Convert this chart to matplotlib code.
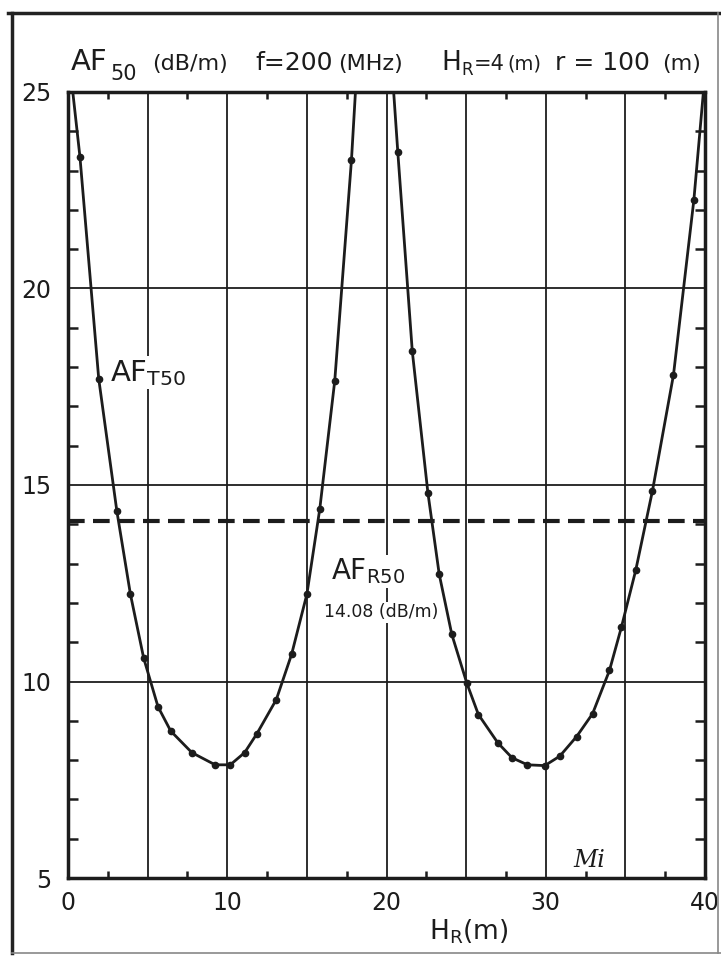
import matplotlib
matplotlib.use("Agg")
import matplotlib.pyplot as plt
from matplotlib.lines import Line2D

# ---- data ----
# AF_T50 curve, first lobe (markers)
lobe1_x = [0.75, 1.93, 3.07, 3.92, 4.75, 5.65, 6.45, 7.78, 9.24, 10.19, 11.09, 11.86,
           13.08, 14.04, 15.0, 15.81, 16.75, 17.8]
lobe1_y = [23.35, 17.7, 14.33, 12.22, 10.6, 9.36, 8.74, 8.19, 7.88, 7.88, 8.19, 8.67,
           9.54, 10.69, 12.22, 14.39, 17.65, 23.27]
# curve ends where it leaves the top of the frame
lobe1_ends_x = [0.3, 18.05]
lobe1_ends_y = [25.0, 25.0]

# second lobe (markers)
lobe2_x = [20.71, 21.62, 22.6, 23.31, 24.1, 25.05, 25.77, 26.99, 27.88, 28.85, 29.94,
           30.88, 31.94, 32.94, 34.0, 34.75, 35.65, 36.7, 38.02, 39.3]
lobe2_y = [23.47, 18.4, 14.8, 12.73, 11.2, 9.95, 9.16, 8.44, 8.06, 7.88, 7.86,
           8.1, 8.6, 9.18, 10.28, 11.38, 12.83, 14.85, 17.8, 22.25]
lobe2_ends_x = [20.45, 39.9]
lobe2_ends_y = [25.0, 25.0]

af_r50 = 14.08  # dB/m

x_ticks = [0, 5, 10, 15, 20, 25, 30, 35, 40]
x_tick_labels = ["0", "", "10", "", "20", "", "30", "", "40"]
y_ticks = [5, 10, 15, 20, 25]
y_tick_labels = ["5", "10", "15", "20", "25"]

INK = "#1c1c1c"
W, H = 721, 956

fig = plt.figure(figsize=(W / 100, H / 100), dpi=100)
fig.patch.set_facecolor("white")

ax = fig.add_axes([68 / W, 1 - 878 / H, 637 / W, 786 / H])
ax.set_xlim(0, 40)
ax.set_ylim(5, 25)

# grid
ax.set_xticks(x_ticks)
ax.set_xticklabels(x_tick_labels)
ax.set_yticks(y_ticks)
ax.set_yticklabels(y_tick_labels)
ax.set_xticks([v + 2.5 for v in x_ticks[:-1]], minor=True)
ax.set_yticks([v for v in range(5, 26) if v % 5 != 0], minor=True)
ax.grid(True, which="major", color=INK, lw=1.3, zorder=1)
ax.tick_params(which="major", length=0, labelsize=17, colors=INK)
ax.tick_params(axis="y", which="major", pad=12)
ax.tick_params(axis="x", which="major", pad=9)
ax.tick_params(axis="x", which="minor", direction="in", length=5, width=1.8,
               top=True, bottom=True, color=INK)
ax.tick_params(axis="y", which="minor", direction="in", length=7, width=1.8,
               left=True, right=True, color=INK)
for s in ax.spines.values():
    s.set_linewidth(2.5)
    s.set_color(INK)
    s.set_zorder(5)

# dashed AF_R50 level
ax.axhline(af_r50, color=INK, lw=3, dashes=(4, 2), zorder=3)

# curves
l1x = [lobe1_ends_x[0]] + lobe1_x + [lobe1_ends_x[1]]
l1y = [lobe1_ends_y[0]] + lobe1_y + [lobe1_ends_y[1]]
l2x = [lobe2_ends_x[0]] + lobe2_x + [lobe2_ends_x[1]]
l2y = [lobe2_ends_y[0]] + lobe2_y + [lobe2_ends_y[1]]
ax.plot(l1x, l1y, color=INK, lw=2.0, zorder=4, solid_joinstyle="round")
ax.plot(l2x, l2y, color=INK, lw=2.0, zorder=4, solid_joinstyle="round")
ax.plot(lobe1_x, lobe1_y, "o", color=INK, ms=4.5, zorder=4)
ax.plot(lobe2_x, lobe2_y, "o", color=INK, ms=4.5, zorder=4)

# in-plot labels
ax.text(2.65, 17.65, r"AF$_\mathregular{T50}$", fontsize=21, color=INK,
        ha="left", va="baseline", zorder=6,
        bbox=dict(facecolor="white", edgecolor="none", pad=1))
ax.text(16.5, 12.6, r"AF$_\mathregular{R50}$", fontsize=20, color=INK,
        ha="left", va="baseline", zorder=6,
        bbox=dict(facecolor="white", edgecolor="none", pad=1))
ax.text(16.1, 11.63, "14.08 (dB/m)", fontsize=12.5, color=INK,
        ha="left", va="baseline", zorder=6,
        bbox=dict(facecolor="white", edgecolor="none", pad=1))
ax.text(32.7, 5.45, "Mi", fontsize=17, color=INK, style="italic",
        family="DejaVu Serif", ha="center", va="center", zorder=6)

# x label
ax.set_xlabel(r"H$_\mathregular{R}$(m)", fontsize=19, color=INK)
ax.xaxis.set_label_coords((469 - 68) / 637, -(932 - 878) / 786)
ax.xaxis.label.set_va("center")


# title pieces (figure pixel positions)
def ftext(xp, yp, s, size):
    fig.text(xp / W, 1 - yp / H, s, fontsize=size, color=INK,
             ha="left", va="baseline")


ftext(71, 70, "AF", 21)
ftext(110, 80, "50", 15)
ftext(152, 70, "(dB/m)", 16)
ftext(255, 70, "f=200", 18)
ftext(338, 70, "(MHz)", 16)
ftext(441, 70, "H", 19)
ftext(461, 75, "R", 12)
ftext(474, 70, "=4", 15)
ftext(507, 70, "(m)", 14)
ftext(555, 70, "r = 100", 18)
ftext(662, 70, "(m)", 16)

# outer frame of the scanned sheet
def fline(x0, y0, x1, y1, lw, color):
    fig.add_artist(Line2D([x0 / W, x1 / W], [1 - y0 / H, 1 - y1 / H],
                          transform=fig.transFigure, lw=lw, color=color))


fline(8, 13, 721, 13, 2.5, "#222222")
fline(12, 13, 12, 953, 2.5, "#222222")
fline(12, 953, 721, 953, 1.2, "#888888")
fline(718, 13, 718, 953, 1.2, "#888888")

fig.savefig("out.png", dpi=100)
